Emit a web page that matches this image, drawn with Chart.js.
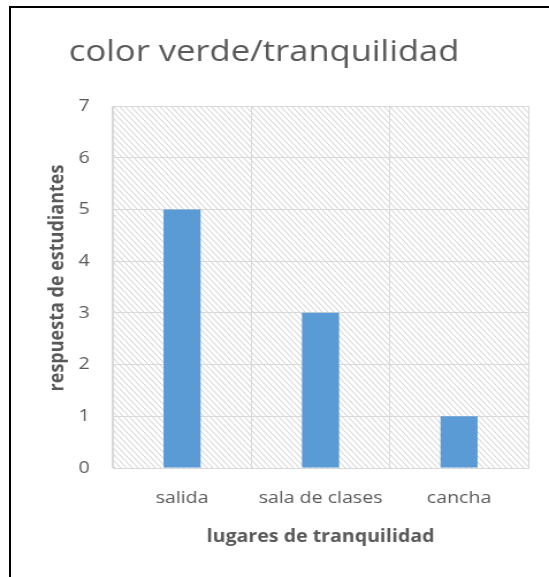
<!DOCTYPE html>
<html>
<head>
<meta charset="utf-8">
<script src="https://cdn.jsdelivr.net/npm/chart.js@4/dist/chart.umd.min.js"></script>
<style>
  html, body { margin: 0; padding: 0; background: #fff; overflow: hidden; }
  #page { position: relative; width: 549px; height: 577px; overflow: hidden; }
  #chart { position: absolute; left: 0; top: 0; transform-origin: 0 0; }
  #frame { position: absolute; left: 9px; top: 6px; right: -4px; bottom: -4px;
           border-left: 2px solid #000; border-top: 2px solid #000; pointer-events: none; }
</style>
</head>
<body>
<div id="page">
  <canvas id="chart"></canvas>
  <div id="frame"></div>
</div>
<script>
// Survey data: where students feel calm (green colour association)
const categories = ['salida', 'sala de clases', 'cancha'];
const respuestas = [5, 3, 1];
const yMin = 0;
const yMax = 7;
const yStep = 1;

const chartTitle = 'color verde/tranquilidad';
const xTitle = 'lugares de tranquilidad';
const yTitle = 'respuesta de estudiantes';

// The drawing is laid out on a narrower canvas and widened horizontally
const PAGE_W = 549, PAGE_H = 577;
const STRETCH = 1.15;
const CW = Math.round(PAGE_W / STRETCH);
const canvas = document.getElementById('chart');
canvas.width = CW;
canvas.height = PAGE_H;
canvas.style.width = CW + 'px';
canvas.style.height = PAGE_H + 'px';
canvas.style.transform = 'scaleX(' + (PAGE_W / CW) + ')';

const TEXT = '#595959';
const GRID = '#d9d9d9';
const BAR = '#5b9bd5';
const FONT = "'Open Sans', 'Noto Sans', sans-serif";

// diagonal hatch fill for the plot area
function makeHatch(ctx) {
  const t = document.createElement('canvas');
  const w = 5, h = 6;
  t.width = w; t.height = h;
  const c = t.getContext('2d');
  c.fillStyle = '#ffffff';
  c.fillRect(0, 0, w, h);
  c.strokeStyle = '#d0d0d0';
  c.lineWidth = 1;
  c.beginPath();
  c.moveTo(-w, -h); c.lineTo(2 * w, 2 * h);
  c.moveTo(-2 * w, -h); c.lineTo(w, 2 * h);
  c.moveTo(0, -h); c.lineTo(3 * w, 2 * h);
  c.stroke();
  return ctx.createPattern(t, 'repeat');
}

// hatch must sit under the grid lines, so paint it before the scales are drawn
const hatchUnderGrid = {
  id: 'hatchUnderGrid',
  beforeDraw(chart) {
    const { ctx, chartArea: a } = chart;
    ctx.save();
    ctx.fillStyle = makeHatch(ctx);
    ctx.fillRect(a.left, a.top, a.right - a.left, a.bottom - a.top);
    ctx.restore();
  }
};

// vertical axis caption, placed a fixed distance left of the plot area
const yCaption = {
  id: 'yCaption',
  afterDraw(chart, args, opts) {
    const { ctx, chartArea: a } = chart;
    ctx.save();
    ctx.translate(a.left - opts.gap, (a.top + a.bottom) / 2 - opts.lift);
    ctx.rotate(-Math.PI / 2);
    ctx.font = 'bold 18px ' + FONT;
    ctx.fillStyle = TEXT;
    ctx.textAlign = 'center';
    ctx.textBaseline = 'middle';
    ctx.fillText(opts.text, 0, 0);
    ctx.restore();
  }
};

new Chart(canvas, {
  type: 'bar',
  data: {
    labels: categories,
    datasets: [{
      data: respuestas,
      backgroundColor: BAR,
      borderWidth: 0,
      categoryPercentage: 1,
      barPercentage: 0.268
    }]
  },
  options: {
    responsive: false,
    animation: false,
    devicePixelRatio: 1,
    layout: { padding: { left: 0, right: 18, top: 0, bottom: 0 } },
    plugins: {
      legend: { display: false },
      tooltip: { enabled: false },
      title: {
        display: true,
        text: chartTitle,
        color: TEXT,
        font: { family: FONT, size: 30, weight: 'normal', lineHeight: 1.2 },
        padding: { top: 34, bottom: 36 }
      },
      yCaption: { text: yTitle, gap: 48, lift: 9 }
    },
    scales: {
      x: {
        offset: true,
        grid: { display: true, offset: true, drawTicks: false, color: GRID, lineWidth: 1 },
        border: { display: true, color: GRID },
        ticks: { color: TEXT, font: { family: FONT, size: 17 }, padding: 20, maxRotation: 0 },
        title: {
          display: true, text: xTitle, color: TEXT,
          font: { family: FONT, size: 17, weight: 'bold', lineHeight: 1.2 },
          padding: { top: 0, bottom: 30 }
        },
        afterFit(scale) { scale.height = 109; }
      },
      y: {
        min: yMin,
        max: yMax,
        ticks: { stepSize: yStep, color: TEXT, font: { family: FONT, size: 17 }, padding: 20 },
        grid: { drawTicks: false, color: GRID, lineWidth: 1 },
        border: { display: true, color: GRID },
        title: { display: false },
        afterFit(scale) { scale.width = 98; }
      }
    }
  },
  plugins: [hatchUnderGrid, yCaption]
});
</script>
</body>
</html>
